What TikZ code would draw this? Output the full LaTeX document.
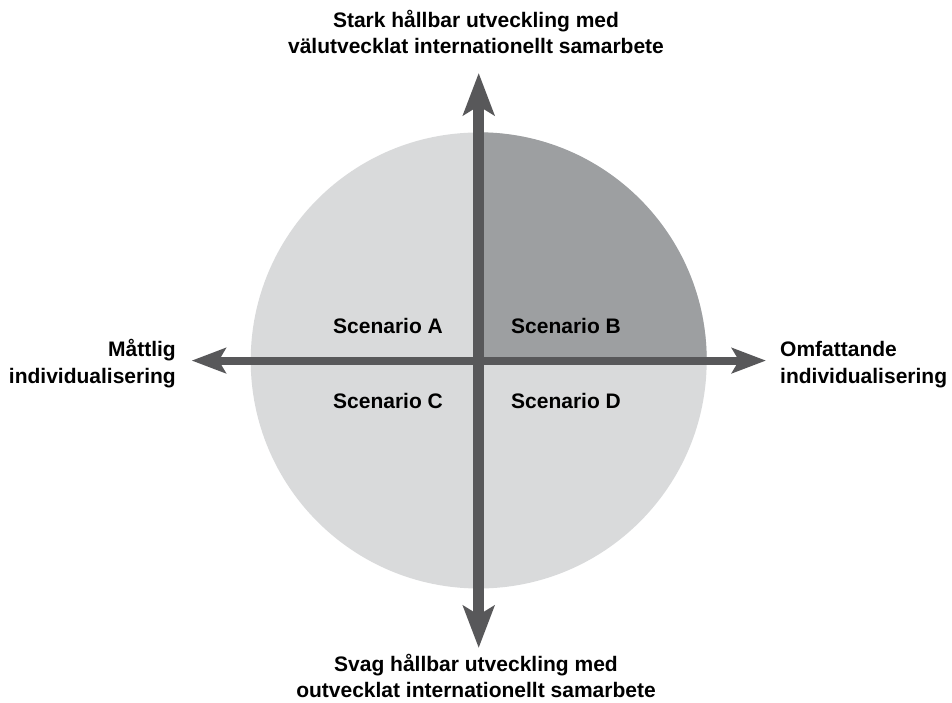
\documentclass[tikz,border=0pt]{standalone}
\usepackage{fontspec}
\setmainfont{Liberation Sans}
\usetikzlibrary{arrows.meta}
\definecolor{disclight}{HTML}{D9DADB}
\definecolor{discdark}{HTML}{9D9FA1}
\definecolor{axisgray}{HTML}{58585A}
\tikzset{
  lbl/.style={font=\fontsize{21}{26.5}\selectfont\bfseries, inner sep=0pt, text=black},
  vaxis/.style={draw=axisgray, line width=10.5pt, {Stealth[length=42pt,width=31pt,inset=9pt]}-{Stealth[length=42pt,width=31pt,inset=9pt]}},
  haxis/.style={draw=axisgray, line width=8pt, {Stealth[length=34pt,width=25pt,inset=7pt]}-{Stealth[length=34pt,width=25pt,inset=7pt]}}
}
\begin{document}
\begin{tikzpicture}[x=1pt,y=1pt]
\useasboundingbox (0,0) rectangle (952,703);
\node[circle, fill=disclight, minimum size=456pt, inner sep=0pt] (disc) at (478.7,342.5) {};
\fill[discdark] (disc.center) -- (disc.north) arc (90:0:228) -- cycle;
\coordinate (top) at (478.7,630);
\coordinate (bottom) at (478.7,55);
\coordinate (left) at (191.7,342.4);
\coordinate (right) at (766,342.4);
\path[vaxis] (bottom) -- (top);
\path[haxis] (left) -- (right);
\node[lbl, align=center, anchor=base] (toplbl) at (476,649) {Stark hållbar utveckling med\\välutvecklat internationellt samarbete};
\node[lbl, align=center, anchor=base] (botlbl) at (476,5) {Svag hållbar utveckling med\\outvecklat internationellt samarbete};
\node[lbl, align=right, anchor=base east] (leftlbl) at (176,319.5) {Måttlig\\individualisering};
\node[lbl, align=left, anchor=base west] (rightlbl) at (780,319.5) {Omfattande\\individualisering};
\node[lbl, anchor=base] (sa) at (388,369) {Scenario A};
\node[lbl, anchor=base] (sb) at (566,369) {Scenario B};
\node[lbl, anchor=base] (sc) at (388,294) {Scenario C};
\node[lbl, anchor=base] (sd) at (566,294) {Scenario D};
\end{tikzpicture}
\end{document}
